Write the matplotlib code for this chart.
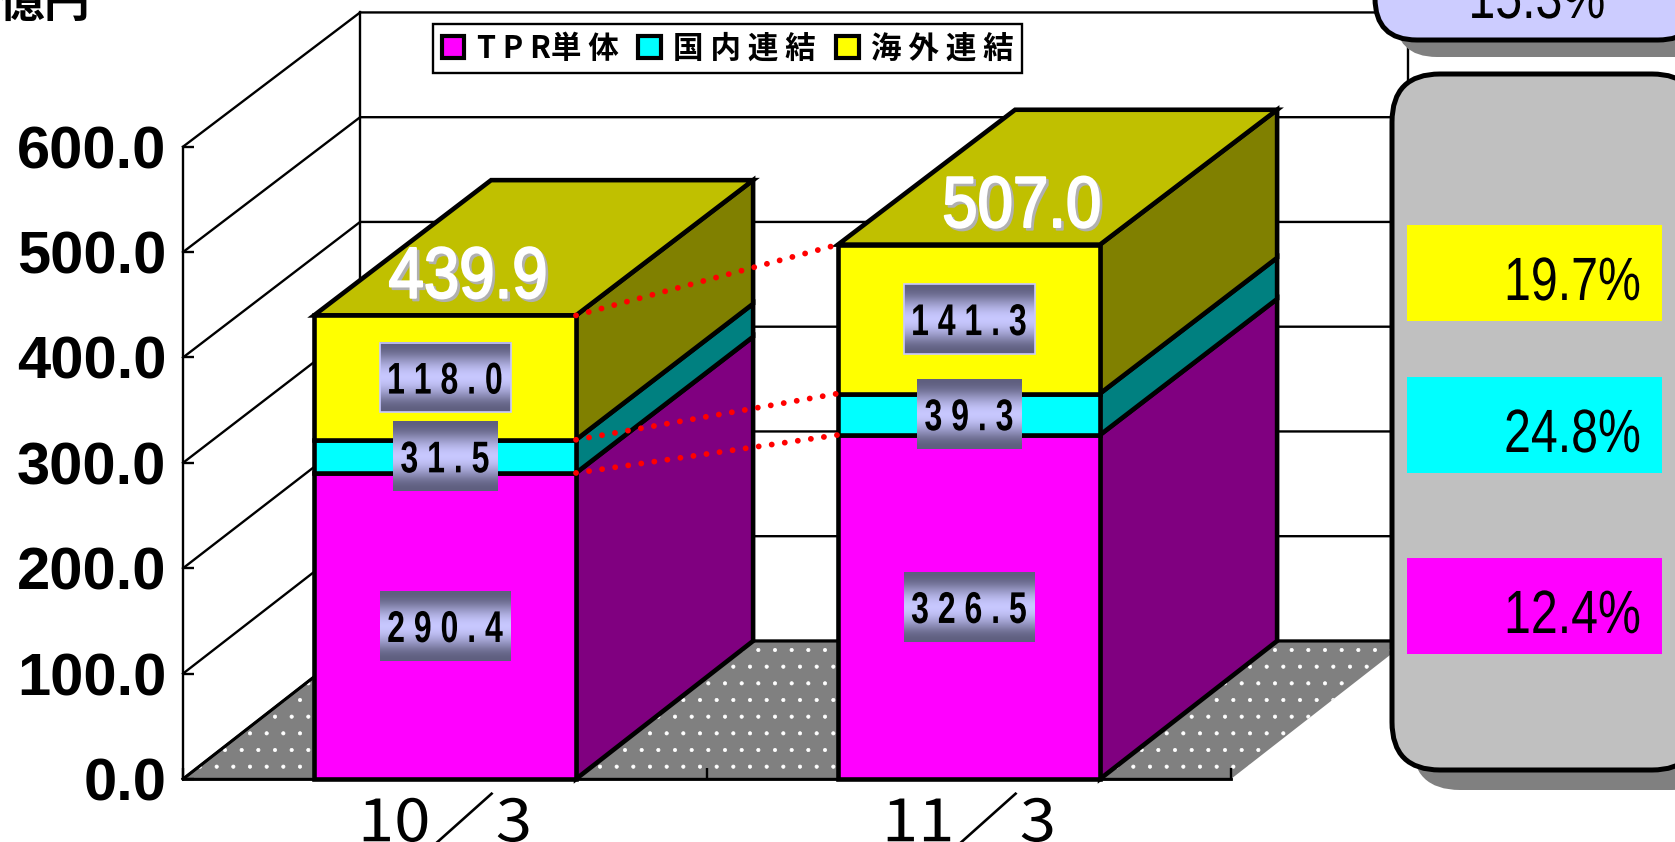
import numpy as np
import matplotlib
matplotlib.use('Agg')
import matplotlib.pyplot as plt
import matplotlib.patheffects as pe
from matplotlib.patches import FancyBboxPatch, Patch, Polygon, Rectangle
from matplotlib.transforms import Affine2D

plt.rcParams['font.family'] = ['Liberation Sans', 'Noto Sans CJK JP', 'DejaVu Sans']
plt.rcParams['hatch.linewidth'] = 0.5

categories = ['10／3', '11／3']
series_names = ['T P R単 体', '国 内 連 結', '海 外 連 結']
tpr = [290.4, 326.5]
domestic = [31.5, 39.3]
overseas = [118.0, 141.3]
totals = [439.9, 507.0]
growth = ['12.4%', '24.8%', '19.7%']
growth_total = '15.3%'
yticks = [0, 100, 200, 300, 400, 500, 600]

front_colors = ['#FF00FF', '#00FFFF', '#FFFF00']
side_colors = ['#800080', '#008080', '#808000']
top_color = '#C0C000'

W, H = 1675, 842
DX = 0.338   # depth of the 3d box, x units
DY = 131.0   # depth of the 3d box, value units
BACK = 0.994  # back wall is a bit shorter than the front
BAR_W = 0.5
LW = 3.3
CJK = ['Noto Sans CJK JP', 'DejaVu Sans']


# no narrow font here, so squeeze the glyphs sideways around x0 (display px)
class HStretch(pe.AbstractPathEffect):
    def __init__(self, x0, s, stroke=0):
        super().__init__()
        self.x0, self.s, self.stroke = x0, s, stroke

    def draw_path(self, renderer, gc, tpath, affine, rgbFace=None):
        t = affine + Affine2D().translate(-self.x0, 0).scale(self.s, 1).translate(self.x0, 0)
        if self.stroke:
            gc0 = renderer.new_gc()
            gc0.copy_properties(gc)
            gc0.set_linewidth(self.stroke)
            gc0.set_foreground(rgbFace)
            renderer.draw_path(gc0, tpath, t, rgbFace)
            gc0.restore()
        else:
            renderer.draw_path(gc, tpath, t, rgbFace)


def back(v):
    return DY + BACK * np.asarray(v, dtype=float)


fig = plt.figure(figsize=(W / 100, H / 100), dpi=100, facecolor='white')
ax = fig.add_axes([183 / W, (H - 779) / H, 1048 / W, (779 - 146.7) / H])
ax.set_facecolor('none')
ax.set_xlim(0, 2)
ax.set_ylim(0, yticks[-1])

# walls and floor
top = yticks[-1]
ax.add_patch(Polygon([(0, 0), (2, 0), (2 + DX, DY), (DX, DY)], facecolor='#808080',
                     edgecolor='white', hatch='.', lw=0, clip_on=False, zorder=1))
ax.plot([0, DX, 2 + DX], [0, DY, DY], color='black', lw=2.2, clip_on=False, zorder=1.5)
ax.plot([0, 2], [0, 0], color='black', lw=2, clip_on=False, zorder=1.5)
for t in yticks:
    ax.plot([0, DX, 2 + DX], [t, back(t), back(t)], color='black', lw=1.7, clip_on=False, zorder=1.2)
ax.plot([DX, DX], [DY, back(top)], color='black', lw=1.7, clip_on=False, zorder=1.2)
ax.plot([2 + DX, 2 + DX], [DY, back(top)], color='black', lw=1.7, clip_on=False, zorder=1.2)

# bars
x = np.array([0.5, 1.5])
stacks = [tpr, domestic, overseas]
handles = []
for i in range(len(x)):
    z = 3 + i
    xl, xr = x[i] - BAR_W / 2, x[i] + BAR_W / 2
    base = 0
    for s in range(3):
        v = stacks[s][i]
        ax.add_patch(Polygon([(xr, base), (xr + DX, back(base)), (xr + DX, back(base + v)), (xr, base + v)],
                             facecolor=side_colors[s], edgecolor='black', lw=LW, clip_on=False,
                             zorder=z, joinstyle='miter'))
        ax.bar(x[i], v, BAR_W, bottom=base, color=front_colors[s], edgecolor='black', lw=LW,
               clip_on=False, zorder=z + 0.2)
        base += v
    ax.add_patch(Polygon([(xl, base), (xl + DX, back(base)), (xr + DX, back(base)), (xr, base)],
                         facecolor=top_color, edgecolor='black', lw=LW, clip_on=False,
                         zorder=z + 0.1, joinstyle='miter'))

# red connectors
c1 = np.cumsum([s[0] for s in stacks])
c2 = np.cumsum([s[1] for s in stacks])
for a, b in zip(c1, c2):
    ax.plot([x[0] + BAR_W / 2, x[1] - BAR_W / 2], [a, b], color='#FF0000', lw=4.2,
            linestyle=(0, (0.01, 2.25)), dash_capstyle='round', clip_on=False, zorder=6)

# value tags with a gradient
grad = np.array([[0.0], [0.15], [0.5], [0.8], [1.0], [1.0], [0.8], [0.5], [0.15], [0.0]])
dark = np.array([0x5E, 0x5E, 0x7E]) / 255
light = np.array([0xC8, 0xC8, 0xFF]) / 255
grad_img = (dark * (1 - grad[:, :, None]) + light * grad[:, :, None])
for i in range(len(x)):
    base = 0
    for s in range(3):
        v = stacks[s][i]
        mid = base + v / 2
        txt = '%.1f' % v
        hw = 0.125 if len(txt) == 5 else 0.1
        ax.imshow(grad_img, extent=[x[i] - hw, x[i] + hw, mid - 33, mid + 33], aspect='auto',
                  interpolation='bicubic', clip_on=False, zorder=7)
        if s == 2:
            ax.add_patch(Rectangle((x[i] - hw, mid - 33), 2 * hw, 66, fill=False, edgecolor='#C8C8FF',
                                   lw=1.2, clip_on=False, zorder=7.1))
        px = ax.transData.transform((x[i], 0))[0]
        ax.text(x[i], mid, ' '.join(txt), ha='center', va='center_baseline', fontsize=32,
                fontweight='bold', color='black', zorder=8, path_effects=[HStretch(px, 0.72)])
        base += v

# totals
shift = [0.044, 0.101]
for i in range(len(x)):
    label = '%.1f' % totals[i]
    px = ax.transData.transform((x[i] + shift[i], 0))[0]
    ax.text(x[i] + shift[i] + 0.005, totals[i] + 39, label, ha='center', va='center_baseline', fontsize=52,
            color='#B0B0B0', zorder=8, path_effects=[HStretch(px + 2.5, 0.88, stroke=1.5)])
    ax.text(x[i] + shift[i], totals[i] + 41.5, label, ha='center', va='center_baseline', fontsize=52,
            color='white', zorder=8.1, path_effects=[HStretch(px, 0.88, stroke=1.5)])

ax.set_yticks(yticks)
ax.set_yticklabels(['%.1f' % t for t in yticks], fontsize=43, fontweight='bold')
ax.set_xticks(x)
ax.set_xticklabels(categories, fontsize=42, family=CJK)
for tick, xc in zip(ax.get_xticklabels(), x):
    tick.set_path_effects([HStretch(ax.transData.transform((xc, 0))[0], 1.12)])
ax.set_xticks([0, 1, 2], minor=True)
ax.tick_params(axis='y', direction='in', length=8, width=1.7, pad=12)
ax.tick_params(axis='x', which='major', length=0, pad=11)
ax.tick_params(axis='x', which='minor', direction='in', length=8, width=1.7)
for name in ['top', 'right']:
    ax.spines[name].set_visible(False)
ax.spines['left'].set_linewidth(1.7)
ax.spines['bottom'].set_linewidth(1.7)

# legend
for s in range(3):
    handles.append(Patch(facecolor=front_colors[s], edgecolor='black', lw=3, label=series_names[s]))
leg = ax.legend(handles=handles, ncols=3, loc='upper left', bbox_to_anchor=(433 / W, (H - 24) / H),
                bbox_transform=fig.transFigure, prop={'family': CJK, 'size': 22, 'weight': 'bold'},
                frameon=True, fancybox=False, framealpha=1, edgecolor='black', borderaxespad=0,
                handlelength=0.75, handleheight=0.75, handletextpad=0.4, columnspacing=0.65,
                borderpad=0.28)
leg.get_frame().set_linewidth(1.7)
leg.set_zorder(20)

# right side panels, in pixels
pn = fig.add_axes([0, 0, 1, 1])
pn.set_xlim(0, W)
pn.set_ylim(H, 0)
pn.axis('off')


def rounded(x0, y0, x1, y1, r, **kw):
    pn.add_patch(FancyBboxPatch((x0 + r, y0 + r), x1 - x0 - 2 * r, y1 - y0 - 2 * r,
                                boxstyle='round,pad=%f,rounding_size=%f' % (r, r), **kw))


rounded(1392 + 20, 74 + 20, 1700 + 20, 770 + 20, 48, facecolor='#808080', edgecolor='none')
rounded(1392, 74, 1700, 770, 48, facecolor='#C0C0C0', edgecolor='black', lw=3.6)
rounded(1375 + 20, -80 + 17, 1700 + 20, 40 + 17, 42, facecolor='#808080', edgecolor='none')
rounded(1375, -80, 1700, 40, 42, facecolor='#CCCCFF', edgecolor='black', lw=3.6)

row_top = [558, 377, 225]
for s in range(3):
    pn.add_patch(Rectangle((1407, row_top[s]), 255, 96, facecolor=front_colors[s], edgecolor='none'))
    pn.text(1641, row_top[s] + 75, growth[s], ha='right', va='baseline', fontsize=44,
            path_effects=[HStretch(1641, 0.79)])
pn.text(1537, 18, growth_total, ha='center', va='baseline', fontsize=44,
        path_effects=[HStretch(1537, 0.79)])
pn.text(-1, 17, '億円', ha='left', va='baseline', fontsize=33, fontweight='bold', family=CJK)

fig.savefig('out.png', dpi=100)
